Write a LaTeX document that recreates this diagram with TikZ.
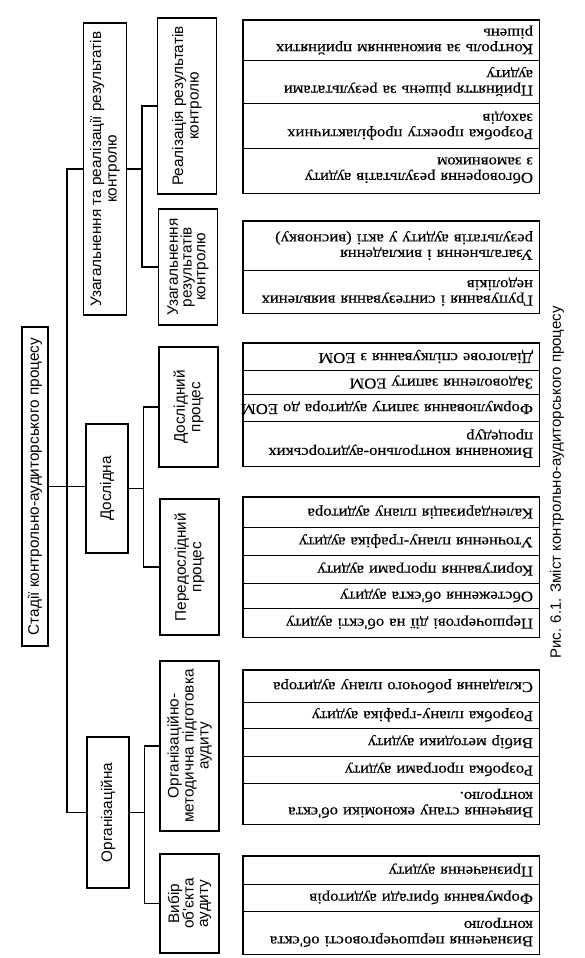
\documentclass[tikz,border=0pt]{standalone}
\usepackage{fontspec}
\usetikzlibrary{calc}
\newfontfamily\tsans{Liberation Sans}
\newfontfamily\lserif[FakeStretch=1.11,FakeBold=0.3]{Liberation Serif}
\begin{document}
\begin{tikzpicture}[x=1pt,y=-1pt,
  tbox/.style={draw, line width=1.2pt, rotate=90, align=center, inner sep=0pt,
    font=\tsans\fontsize{15.3}{15.5}\selectfont},
  lrow/.style={draw, line width=0.9pt, rotate=180, text width=284pt, align=left,
    inner xsep=6pt, inner ysep=0pt, minimum width=296pt,
    font=\lserif\fontsize{15}{15.5}\selectfont},
  outline/.style={line width=1.6pt},
  conn/.style={line width=1.1pt}]
\useasboundingbox (0,0) rectangle (585,958);
% root and level 1
\node[tbox, minimum width=319pt, minimum height=26pt] (root) at (35,486.5) {Стадії контрольно-аудиторського процесу};
\node[tbox, minimum width=292pt, minimum height=43pt] (uz) at (105,169) {Узагальнення та реалізації результатів\\контролю};
\node[tbox, minimum width=129pt, minimum height=42pt] (dosl) at (107,488.5) {Дослідна};
\node[tbox, minimum width=151pt, minimum height=42pt] (org) at (108,812.5) {Організаційна};
% level 2
\node[tbox, minimum width=176pt, minimum height=59pt] (real) at (187,106) {Реалізація результатів\\контролю};
\node[tbox, minimum width=116pt, minimum height=59pt, font=\tsans\fontsize{15.3}{13.8}\selectfont] (uzr) at (188,267) {Узагальнення\\результатів\\контролю};
\node[tbox, minimum width=120pt, minimum height=59pt] (dp) at (188.5,407) {Дослідний\\процес};
\node[tbox, minimum width=136pt, minimum height=59pt] (pd) at (189.5,567) {Передослідний\\процес};
\node[tbox, minimum width=170pt, minimum height=59pt, font=\tsans\fontsize{15.3}{15}\selectfont] (om) at (189.5,746) {Організаційно-\\методична підготовка\\аудиту};
\node[tbox, minimum width=99pt, minimum height=59pt, font=\tsans\fontsize{15.3}{14.5}\selectfont] (vyb) at (189.5,903.5) {Вибір\\об'єкта\\аудиту};
% connectors
\coordinate (sp) at ($(root.south)!0.5!(root.south -| dosl.north)$);
\draw[conn] (root.south) -- (root.south -| dosl.north);
\draw[conn] (uz.north) -| (sp);
\draw[conn] (org.north) -| (sp);
\coordinate (m1) at ($(uz.south)!0.5!(uz.south -| real.north)$);
\draw[conn] (uz.south) -- (m1);
\draw[conn] (real.north) -| (m1) |- (uzr.north);
\coordinate (m2) at ($(dosl.south)!0.5!(dosl.south -| dp.north)$);
\draw[conn] (dosl.south) -- (m2);
\draw[conn] (dp.north) -| (m2) |- (pd.north);
\coordinate (m3) at ($(org.south)!0.5!(org.south -| om.north)$);
\draw[conn] (org.south) -- (m3);
\draw[conn] (om.north) -| (m3) |- (vyb.north);
% leaf group 1
\node[lrow, minimum height=40pt] (a1) at (391,40) {Контроль за виконанням прийнятих\\рішень};
\node[lrow, minimum height=43pt] (a2) at (391,81.5) {Прийняття рішень за результатами\\аудиту};
\node[lrow, minimum height=45pt] (a3) at (391,125.5) {Розробка проекту профілактичних\\заходів};
\node[lrow, minimum height=45pt] (a4) at (391,170.5) {Обговорення результатів аудиту\\з замовником};
\draw[outline] (a1.south east) rectangle (a4.north west);
% leaf group 2
\node[lrow, minimum height=49pt] (b1) at (391,245.5) {Узагальнення і викладення\\результатів аудиту у акті (висновку)};
\node[lrow, minimum height=43pt] (b2) at (391,291.5) {Групування і синтезування виявлених\\недоліків};
\draw[outline] (b1.south east) rectangle (b2.north west);
% leaf group 3
\node[lrow, minimum height=27pt] (c1) at (391,356.5) {Діалогове спілкування з ЕОМ};
\node[lrow, minimum height=24pt] (c2) at (391,382) {Задоволення запиту ЕОМ};
\node[lrow, minimum height=27pt] (c3) at (391,407.5) {\mbox{Формулювання запиту аудитора до ЕОМ}};
\node[lrow, minimum height=45pt] (c4) at (391,443.5) {Виконання контрольно-аудиторських\\процедур};
\draw[outline] (c1.south east) rectangle (c4.north west);
% leaf group 4
\node[lrow, minimum height=30pt] (d1) at (391,512) {Календаризація плану аудитора};
\node[lrow, minimum height=28pt] (d2) at (391,541) {Уточнення плану-графіка аудиту};
\node[lrow, minimum height=28pt] (d3) at (391,569) {Коригування програми аудиту};
\node[lrow, minimum height=25pt] (d4) at (391,595.5) {Обстеження об'єкта аудиту};
\node[lrow, minimum height=29pt] (d5) at (391,622.5) {Першочергові дії на об'єкті аудиту};
\draw[outline] (d1.south east) rectangle (d5.north west);
% leaf group 5
\node[lrow, minimum height=32pt] (e1) at (391,686) {Складання робочого плану аудитора};
\node[lrow, minimum height=26pt] (e2) at (391,715) {Розробка плану-графіка аудиту};
\node[lrow, minimum height=28pt] (e3) at (391,742) {Вибір методики аудиту};
\node[lrow, minimum height=27pt] (e4) at (391,769.5) {Розробка програми аудиту};
\node[lrow, minimum height=41pt] (e5) at (391,803.5) {Вивчення стану економіки об'єкта\\контролю.};
\draw[outline] (e1.south east) rectangle (e5.north west);
% leaf group 6
\node[lrow, minimum height=28pt] (f1) at (391,870) {Призначення аудиту};
\node[lrow, minimum height=27pt] (f2) at (391,897.5) {Формування бригади аудиторів};
\node[lrow, minimum height=43pt] (f3) at (391,932.5) {Визначення першочерговості об'єкта\\контролю};
\draw[outline] (f1.south east) rectangle (f3.north west);
% caption
\node[rotate=90, inner sep=0pt, font=\tsans\fontsize{15}{15}\selectfont] (cap) at (557,482.5) {Рис. 6.1. Зміст контрольно-аудиторського процесу};
\end{tikzpicture}
\end{document}
